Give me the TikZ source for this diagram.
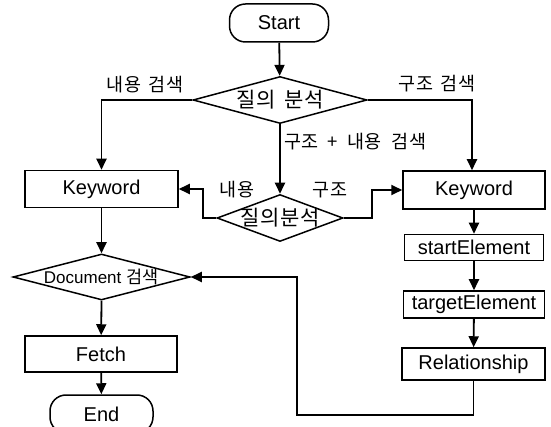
\documentclass[tikz,border=0pt]{standalone}
\usepackage{fontspec}
\setmainfont{Liberation Sans}
\newfontfamily\kr[LetterSpace=4]{Noto Sans CJK KR}
\usetikzlibrary{shapes.geometric,arrows.meta}
\begin{document}
\begin{tikzpicture}[x=1pt,y=-1pt,
  every node/.style={font=\fontsize{20}{22}\selectfont},
  box/.style={draw,line width=1.5pt,inner sep=0pt},
  term/.style={draw,line width=1.5pt,rounded corners=16pt,inner sep=0pt},
  dia/.style={draw,diamond,line width=1.5pt,inner sep=0pt},
  lab/.style={font=\kr\fontsize{18.5}{20}\selectfont,inner sep=0pt},
  arr/.style={line width=1.8pt,-{Triangle[length=11pt,width=10pt]}},
  ln/.style={line width=1.8pt}]
\useasboundingbox (0,0) rectangle (551,427);
\clip (0,0) rectangle (551,427);
% nodes
\node[term,minimum width=99pt,minimum height=38pt] (start) at (279,23) {Start};
\node[dia,minimum width=174pt,minimum height=47pt,
  label={[font=\kr\fontsize{21}{23}\selectfont]center:질의\hspace{3pt} 분석}] (d1) at (280,100) {};
\node[box,minimum width=153pt,minimum height=37pt] (k1) at (101.5,189) {Keyword};
\node[dia,minimum width=126pt,minimum height=47pt,
  label={[font=\kr\fontsize{21}{23}\selectfont]center:질의분석}] (d2) at (280,218) {};
\node[box,minimum width=142pt,minimum height=38pt] (k2) at (474,190) {Keyword};
\node[box,minimum width=139pt,minimum height=26pt] (se) at (474,247.5) {startElement};
\node[box,minimum width=141pt,minimum height=27pt] (te) at (474,304.5) {targetElement};
\node[box,minimum width=143pt,minimum height=32pt] (rel) at (473.5,364) {Relationship};
\node[dia,minimum width=177pt,minimum height=46pt,
  label={[font=\fontsize{17}{18}\selectfont]center:Document {\kr\fontsize{17.5}{18}\selectfont 검색}}] (doc) at (101.5,277) {};
\node[box,minimum width=152pt,minimum height=36pt] (fetch) at (101,354) {Fetch};
\node[term,minimum width=103pt,minimum height=38pt] (end) at (101.5,414) {End};
% free-end coordinates
\coordinate (c1) at (101.5,100);
\coordinate (c2) at (472,100);
\coordinate (c3) at (203,218);
\coordinate (c4) at (203,189);
\coordinate (c5) at (372,218);
\coordinate (c6) at (372,190);
\coordinate (c7) at (473.5,415);
\coordinate (c8) at (297,415);
\coordinate (c9) at (297,277);
% labels
\node[lab] (l1) at (145,85) {내용\hspace{3pt} 검색};
\node[lab] (l2) at (437,84) {구조\hspace{3pt} 검색};
\node[lab,anchor=west] (l3) at (284,142) {구조\hspace{4pt} + \hspace{4pt}내용\hspace{5pt} 검색};
\node[lab] (l4) at (237,190) {내용};
\node[lab] (l5) at (330,190) {구조};
% connectors
\draw[arr] (start) -- (d1);
\draw[arr] (d1.west) -- (c1) -- (k1.north);
\draw[arr] (d1.east) -- (c2) -- (c2 |- k2.north);
\draw[arr] (d1.south) -- (d2.north);
\draw[arr] (d2.west) -- (c3) -- (c4) -- (c4 -| k1.east);
\draw[arr] (d2.east) -- (c5) -- (c6) -- (c6 -| k2.west);
\draw[arr] (k1) -- (doc.north);
\draw[arr] (doc.south) -- (fetch);
\draw[arr] (fetch) -- (end);
\draw[arr] (k2) -- (se);
\draw[arr] (se) -- (te);
\draw[arr] (te) -- (rel);
\draw[arr] (rel.south) -- (c7) -- (c8) -- (c9) -- (doc.east);
\end{tikzpicture}
\end{document}
